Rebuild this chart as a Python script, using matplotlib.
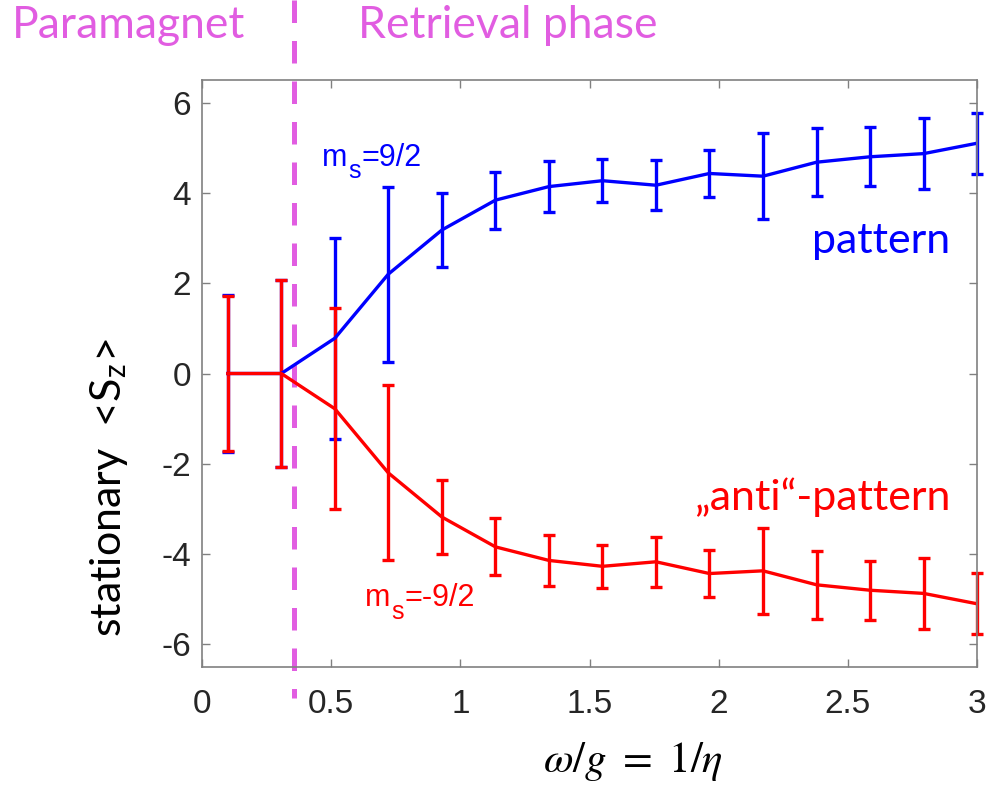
import matplotlib
matplotlib.use('Agg')
import matplotlib.pyplot as plt
import matplotlib.transforms as mtransforms
import numpy as np

plt.rcParams['mathtext.fontset'] = 'stix'

# omega/g values (15 points from 0.1 to 3)
x = [0.1, 0.307, 0.514, 0.721, 0.929, 1.136, 1.343, 1.55,
     1.757, 1.964, 2.171, 2.379, 2.586, 2.793, 3.0]
pattern = [0.0, 0.0, 0.78, 2.2, 3.18, 3.84, 4.14, 4.27,
           4.17, 4.43, 4.37, 4.68, 4.8, 4.87, 5.1]
pattern_err = [1.74, 2.07, 2.23, 1.94, 0.82, 0.63, 0.56, 0.48,
               0.55, 0.52, 0.95, 0.75, 0.65, 0.78, 0.68]
anti = [-v for v in pattern]
anti_err = [1.72, 2.07, 2.23, 1.94, 0.82, 0.63, 0.56, 0.48,
            0.55, 0.52, 0.95, 0.75, 0.65, 0.78, 0.68]
boundary = 0.356

violet = '#e15de1'
grey = '#808080'

fig = plt.figure(figsize=(9.94, 7.86), dpi=100)
ax = fig.add_axes([0.2032, 0.1514, 0.7798, 0.7468])

lw = 2.4
for y, err, c in [(pattern, pattern_err, 'blue'), (anti, anti_err, 'red')]:
    eb = ax.errorbar(x, y, yerr=err, color=c, lw=lw, elinewidth=lw,
                     capsize=4.3, capthick=lw)
    # last point sits on the right spine, don't cut its bar in half
    for art in list(eb.lines[1]) + list(eb.lines[2]):
        art.set_clip_on(False)

ax.set_xlim(0, 3)
ax.set_ylim(-6.5, 6.5)
ax.set_xticks([0, 0.5, 1, 1.5, 2, 2.5, 3])
ax.set_xticklabels(['0', '0.5', '1', '1.5', '2', '2.5', '3'])
ax.set_yticks([-6, -4, -2, 0, 2, 4, 6])
ax.set_yticklabels(['-6', '-4', '-2', '0', '2', '4', '6'])
ax.tick_params(direction='in', top=True, right=True, length=6, width=1,
               color=grey, labelsize=24, labelcolor='#262626')
ax.tick_params(axis='x', pad=16)
ax.tick_params(axis='y', pad=8)
for s in ax.spines.values():
    s.set_color(grey)
    s.set_linewidth(1.2)
for lab in ax.get_xticklabels() + ax.get_yticklabels():
    lab.set_family('Liberation Sans')

# phase boundary, running above and below the axes
trans = mtransforms.blended_transform_factory(ax.transData, fig.transFigure)
ax.plot([boundary, boundary], [1.0, 0.112], transform=trans, clip_on=False,
        color=violet, lw=3.6, dashes=(4.5, 3.6))

fig.text(0.012, 0.952, 'Paramagnet', color=violet, fontsize=32,
         family='Lato', ha='left', va='baseline')
fig.text(0.36, 0.952, 'Retrieval phase', color=violet, fontsize=32,
         family='Lato', ha='left', va='baseline')


def spin_label(xd, yd, value, color):
    # "m" with a lowered subscript "s", MATLAB style
    kw = dict(color=color, family='Liberation Sans', ha='left', va='baseline',
              textcoords='offset points')
    ax.annotate('m', (xd, yd), xytext=(0, 0), fontsize=22, **kw)
    ax.annotate('s', (xd, yd), xytext=(19, -9), fontsize=18, **kw)
    ax.annotate('=' + value, (xd, yd), xytext=(28.5, 0), fontsize=22, **kw)


spin_label(0.465, 4.6, '9/2', 'blue')
spin_label(0.631, -5.15, '-9/2', 'red')

ax.text(2.896, 2.66, 'pattern', color='blue', fontsize=31,
        family='Lato', ha='right', va='baseline')
ax.text(2.896, -3.03, '\u201eanti\u201c-pattern', color='red', fontsize=31,
        family='Lato', ha='right', va='baseline')

fig.text(0.11, 0.38, 'stationary  <S$_\\mathregular{z}$>', rotation=90,
         fontsize=31, family='Lato', ha='center', va='center', color='black')

fig.text(0.637, 0.018, r'$\omega/g\ =\ 1/\eta$', fontsize=31,
         ha='center', va='baseline', color='black')

fig.savefig('out.png', dpi=100)
